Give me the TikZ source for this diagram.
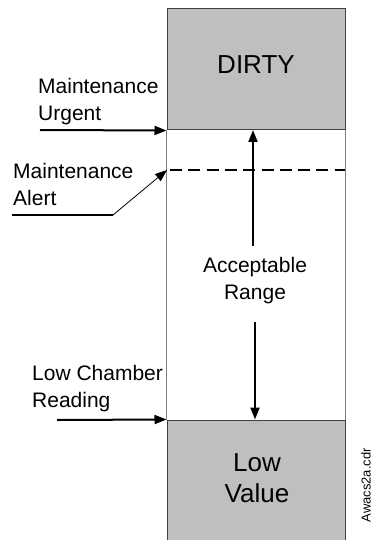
\documentclass[tikz,border=0pt]{standalone}
\usepackage{fontspec}
\setmainfont{Liberation Sans}
\usepackage{tikz}
\usetikzlibrary{arrows.meta, positioning}

\begin{document}
\begin{tikzpicture}[
        x=1pt, y=-1pt,
        zone/.style={
            rectangle,
            draw=black!75,
            fill=gray!50,
            line width=1pt,
            minimum width=178pt,
            inner sep=0pt
        },
        side/.style={
            align=left,
            anchor=north west,
            inner sep=0pt,
            font=\fontsize{21}{27}\selectfont
        },
        big/.style={
            align=center,
            inner sep=0pt,
            font=\fontsize{26}{31}\selectfont
        },
        arrow/.style={-{Triangle[length=12pt, width=9pt]}, line width=2pt},
        thinarrow/.style={-{Triangle[length=12pt, width=9pt]}, line width=0.8pt},
        wall/.style={draw=black!50, line width=1pt}
    ]

    \clip (0,0) rectangle (375,540);

    \node (dirty) [zone, minimum height=121pt] at (256,69.5) {};
    \node (low) [zone, minimum height=130pt] at (256,485) {};
    \node (dirtytext) [big] at (256,65) {DIRTY};
    \node (lowtext) [big] at (257,478) {Low\\Value};
    \node (range) [big, font=\fontsize{21}{27}\selectfont] at (255,281) {Acceptable\\Range};

    \node (urgent) [side] at (38,78) {Maintenance\\Urgent};
    \node (alert) [side] at (13,163) {Maintenance\\Alert};
    \node (reading) [side] at (32,365) {Low Chamber\\Reading};
    \node (fname) [rotate=90, anchor=east, inner sep=0pt, font=\fontsize{13}{15}\selectfont] at (366,448) {Awacs2a.cdr};

    \coordinate (urgtail) at (40,130);
    \coordinate (readtail) at (57,420);
    \coordinate (ulstart) at (12,215);
    \coordinate (ulend) at (113,215);
    \coordinate (alertL) at (167,170);
    \coordinate (alertR) at (345,170);

    \draw [wall] (dirty.south west) -- (low.north west);
    \draw [wall] (dirty.south east) -- (low.north east);
    \draw [line width=2pt, dash pattern=on 12pt off 6.3pt, dash phase=-3pt] (alertL) -- (alertR);

    \draw [arrow] (urgtail) -- (dirty.south west);
    \draw [arrow] (readtail) -- (low.north west);
    \draw [line width=2pt] (ulstart) -- (ulend);
    \draw [thinarrow] (ulend) -- (alertL);

    \draw [arrow, shorten <=12pt] (range.north -| 253,0) -- (253,130);
    \draw [arrow, shorten <=18pt] (range.south) -- (range.south |- low.north);

\end{tikzpicture}
\end{document}
